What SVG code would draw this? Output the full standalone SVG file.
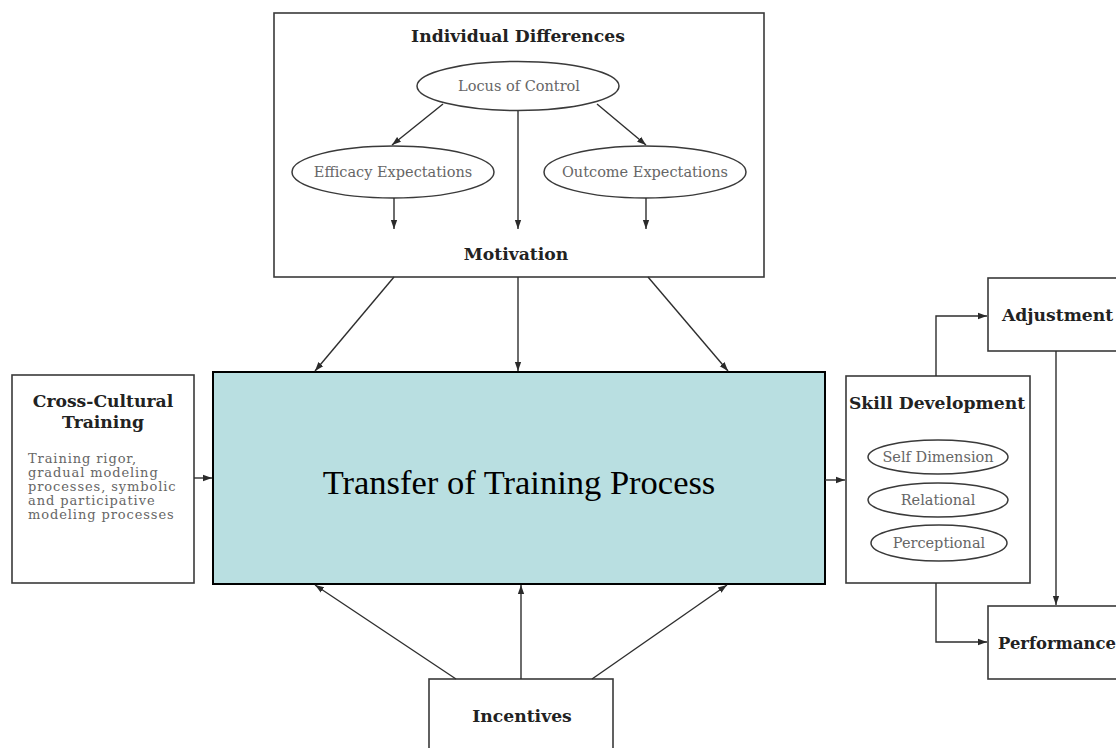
<svg xmlns="http://www.w3.org/2000/svg" width="1116" height="748" viewBox="0 0 1116 748">
  <defs>
    <marker id="arrow" viewBox="0 0 10 10" refX="10" refY="5" markerWidth="9" markerHeight="9" markerUnits="userSpaceOnUse" orient="auto">
      <path d="M0,1.5 L10,5 L0,8.5 z" fill="#2a2a2a"/>
    </marker>
    <style>
      .box { fill: #ffffff; stroke: #3a3a3a; stroke-width: 1.6; }
      .oval { fill: #ffffff; stroke: #3a3a3a; stroke-width: 1.5; }
      .head { font-family: "DejaVu Serif", "Liberation Serif", serif; font-weight: bold; fill: #222; font-size: 17.2px; }
      .lbl { font-family: "DejaVu Serif", "Liberation Serif", serif; fill: #666; font-size: 14.5px; }
      .body { font-family: "DejaVu Serif", "Liberation Serif", serif; fill: #666; font-size: 13px; letter-spacing: 0.9px; }
      .conn { stroke: #2e2e2e; stroke-width: 1.4; fill: none; marker-end: url(#arrow); }
    </style>
  </defs>
  <rect width="1116" height="748" fill="#ffffff"/>

  <!-- Individual differences / motivation -->
  <g id="individual-differences">
    <rect class="box" x="274" y="13" width="490" height="264"/>
    <text class="head" x="518" y="42" text-anchor="middle">Individual Differences</text>
    <text class="head" x="516" y="260" text-anchor="middle">Motivation</text>
  </g>
  <g id="locus-of-control">
    <ellipse class="oval" cx="518" cy="86" rx="101" ry="24.5"/>
    <text class="lbl" x="519" y="91" text-anchor="middle">Locus of Control</text>
  </g>
  <g id="efficacy-expectations">
    <ellipse class="oval" cx="393" cy="172" rx="101" ry="26"/>
    <text class="lbl" x="393" y="177" text-anchor="middle">Efficacy Expectations</text>
  </g>
  <g id="outcome-expectations">
    <ellipse class="oval" cx="645" cy="172" rx="101" ry="26"/>
    <text class="lbl" x="645" y="177" text-anchor="middle">Outcome Expectations</text>
  </g>

  <!-- Central process -->
  <g id="transfer-process">
    <rect x="213" y="372" width="612" height="212" fill="#b9dfe1" stroke="#000" stroke-width="2"/>
    <text x="519" y="494" font-family="'Liberation Serif', 'Times New Roman', serif" font-size="34.5" fill="#000" text-anchor="middle">Transfer of Training Process</text>
  </g>

  <!-- Cross-cultural training -->
  <g id="cross-cultural-training">
    <rect class="box" x="12" y="375" width="182" height="208"/>
    <text class="head" x="103" y="407" text-anchor="middle">Cross-Cultural</text>
    <text class="head" x="103" y="428" text-anchor="middle">Training</text>
    <text class="body" x="28" y="463">Training rigor,</text>
    <text class="body" x="28" y="477">gradual modeling</text>
    <text class="body" x="28" y="491">processes, symbolic</text>
    <text class="body" x="28" y="505">and participative</text>
    <text class="body" x="28" y="519">modeling processes</text>
  </g>

  <!-- Skill development -->
  <g id="skill-development">
    <rect class="box" x="846" y="376" width="184" height="207"/>
    <text class="head" x="937" y="409" text-anchor="middle">Skill Development</text>
  </g>
  <g id="self-dimension">
    <ellipse class="oval" cx="938" cy="457" rx="70" ry="17"/>
    <text class="lbl" x="938" y="462" text-anchor="middle">Self Dimension</text>
  </g>
  <g id="relational">
    <ellipse class="oval" cx="938" cy="500" rx="70" ry="17"/>
    <text class="lbl" x="938" y="505" text-anchor="middle">Relational</text>
  </g>
  <g id="perceptional">
    <ellipse class="oval" cx="939" cy="543" rx="68" ry="18"/>
    <text class="lbl" x="939" y="548" text-anchor="middle">Perceptional</text>
  </g>

  <!-- Outcomes -->
  <g id="adjustment">
    <rect class="box" x="988" y="278" width="140" height="73"/>
    <text class="head" x="1002" y="321">Adjustment</text>
  </g>
  <g id="performance">
    <rect class="box" x="988" y="606" width="140" height="73"/>
    <text class="head" x="998" y="649" style="font-size:16.4px">Performance</text>
  </g>

  <!-- Incentives -->
  <g id="incentives">
    <rect class="box" x="429" y="679" width="184" height="80"/>
    <text class="head" x="522" y="722" text-anchor="middle">Incentives</text>
  </g>

  <g id="connectors">
    <!-- inside individual differences -->
    <line class="conn" x1="443" y1="104" x2="392" y2="145"/>
    <line class="conn" x1="597" y1="104" x2="646" y2="145"/>
    <line class="conn" x1="518" y1="111" x2="518" y2="229"/>
    <line class="conn" x1="394" y1="198" x2="394" y2="229"/>
    <line class="conn" x1="646" y1="198" x2="646" y2="229"/>
    <!-- motivation to process -->
    <line class="conn" x1="394" y1="277" x2="315" y2="371"/>
    <line class="conn" x1="518" y1="277" x2="518" y2="371"/>
    <line class="conn" x1="648" y1="277" x2="728" y2="371"/>
    <!-- incentives to process -->
    <line class="conn" x1="456" y1="679" x2="315" y2="585"/>
    <line class="conn" x1="521" y1="679" x2="521" y2="585"/>
    <line class="conn" x1="592" y1="679" x2="727" y2="585"/>
    <!-- training into process, process into skills -->
    <line class="conn" x1="194" y1="478" x2="212" y2="478"/>
    <line class="conn" x1="825" y1="480" x2="845" y2="480"/>
    <!-- skills to adjustment and performance -->
    <polyline class="conn" points="936,376 936,316 987,316"/>
    <polyline class="conn" points="936,583 936,642 987,642"/>
    <line class="conn" x1="1056" y1="351" x2="1056" y2="605"/>
  </g>
</svg>
